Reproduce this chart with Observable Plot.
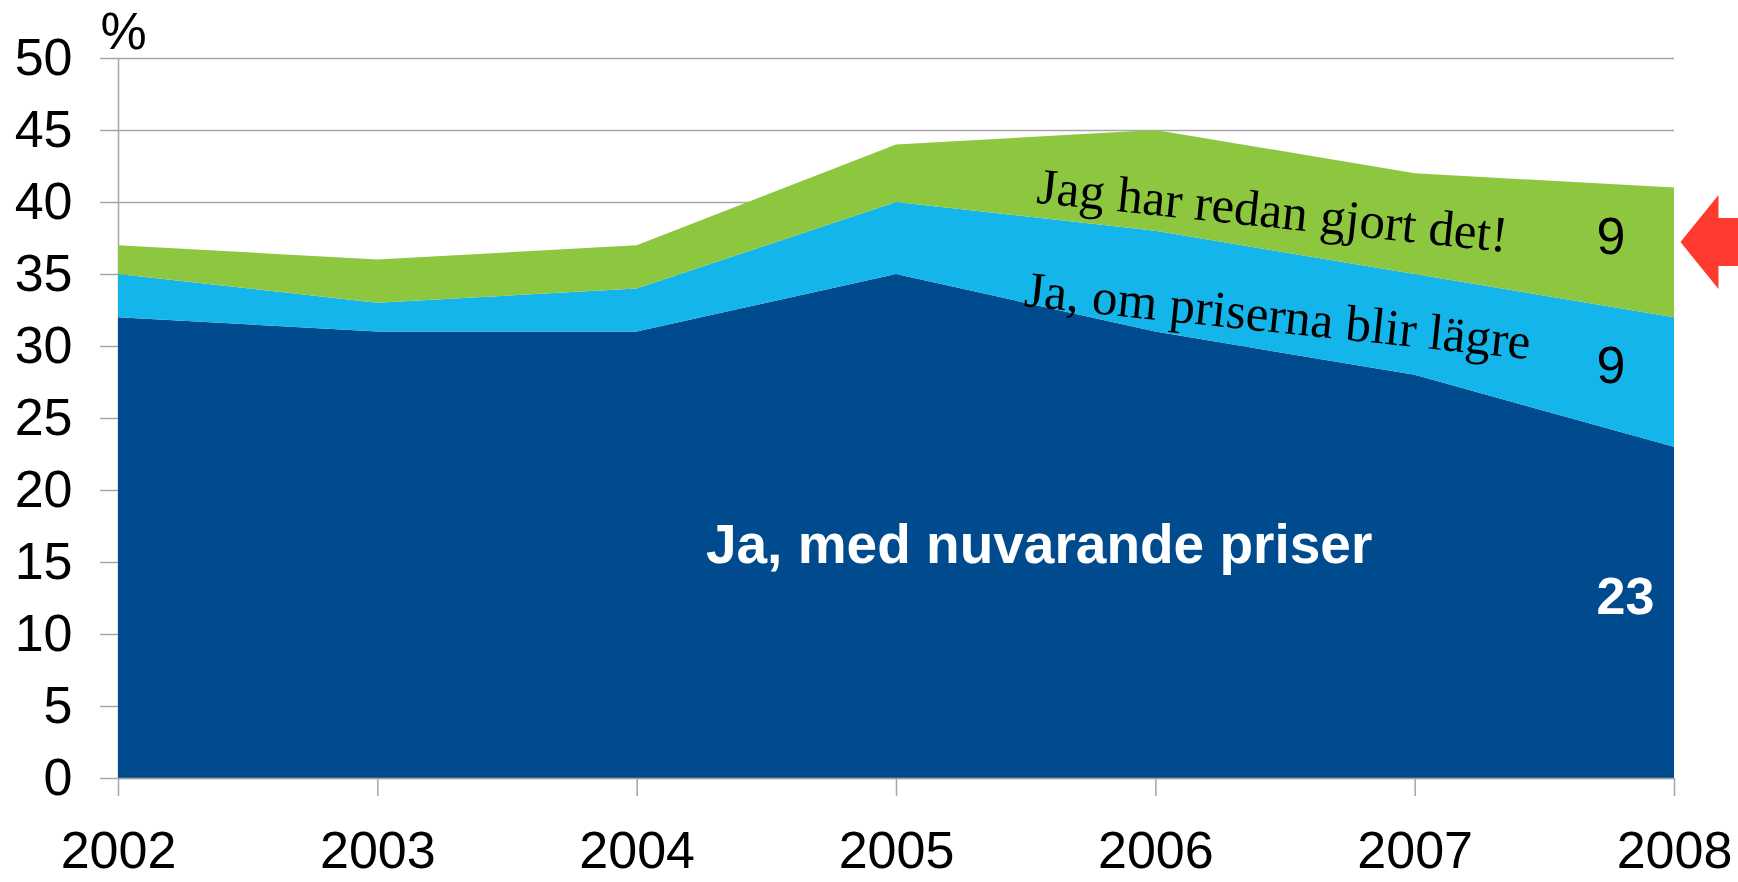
<!DOCTYPE html>
<html>
<head>
<meta charset="utf-8">
<script src="https://cdn.jsdelivr.net/npm/d3@7"></script>
<script src="https://cdn.jsdelivr.net/npm/@observablehq/plot@0.6"></script>
<style>
  html, body { margin: 0; padding: 0; background: #ffffff; }
  #chart { width: 1738px; height: 882px; overflow: hidden; }
</style>
</head>
<body>
<div id="chart"></div>
<script>
// ---- Data ----
const years = [2002, 2003, 2004, 2005, 2006, 2007, 2008];
const nuvarande = [32, 31, 31, 35, 31, 28, 23];   // Ja, med nuvarande priser
const lagre     = [3, 2, 3, 5, 7, 7, 9];          // Ja, om priserna blir lägre
const gjort     = [2, 3, 3, 4, 7, 7, 9];          // Jag har redan gjort det!
const seriesNames = ["Ja, med nuvarande priser", "Ja, om priserna blir lägre", "Jag har redan gjort det!"];
const seriesValues = [nuvarande, lagre, gjort];
const seriesColors = ["#004b8d", "#14b5ea", "#8dc63f"];
const yTicks = [0, 5, 10, 15, 20, 25, 30, 35, 40, 45, 50];
const yUnit = "%";

// band-label anchor positions (data coordinates)
const bandLabelX = [2005.55, 2006.47, 2006.45];
const bandLabelY = [16.2, 32.1, 39.4];
const arrowTarget = [{x: 2008, y: 37.25}];

// ---- Derived tables ----
const rows = [];
seriesNames.forEach((s, i) => years.forEach((yr, j) => rows.push({series: s, year: yr, value: seriesValues[i][j]})));

const last = years.length - 1;
let base = 0;
const endLabels = seriesNames.map((s, i) => {
  const v = seriesValues[i][last];
  const row = {series: s, year: years[last], value: v, mid: base + v / 2};
  base += v;
  return row;
});

const bandLabels = seriesNames.map((s, i) => ({text: s, x: bandLabelX[i], y: bandLabelY[i]}));

const gray = "#a6a6a6";
const sans = "'Liberation Sans', Arial, Helvetica, sans-serif";
const serif = "'Liberation Serif', 'Times New Roman', serif";

const arrowSymbol = {
  draw(context) {
    context.moveTo(0, 0);
    context.lineTo(38, -47);
    context.lineTo(38, -24);
    context.lineTo(70, -24);
    context.lineTo(70, 24);
    context.lineTo(38, 24);
    context.lineTo(38, 47);
    context.closePath();
  }
};

const chart = Plot.plot({
  width: 1738,
  height: 882,
  marginLeft: 118,
  marginRight: 64,
  marginTop: 58,
  marginBottom: 104,
  style: {fontFamily: sans, background: "#ffffff", overflow: "visible"},
  x: {type: "linear", domain: [2002, 2008]},
  y: {domain: [0, 50]},
  color: {domain: seriesNames, range: seriesColors},
  marks: [
    Plot.gridY(yTicks, {stroke: gray, strokeOpacity: 1, strokeWidth: 1.5}),
    Plot.ruleX([2002], {stroke: gray, strokeWidth: 1.5}),
    Plot.areaY(rows, {x: "year", y: "value", z: "series", fill: "series", order: seriesNames}),
    Plot.ruleY([0], {stroke: gray, strokeWidth: 1.5}),
    Plot.axisY(yTicks, {label: null, tickSize: 18, tickPadding: 28, fontSize: 52, stroke: gray, strokeWidth: 1.5, fill: "black"}),
    Plot.axisX(years, {label: null, tickSize: 18, tickPadding: 35, fontSize: 52, stroke: gray, strokeWidth: 1.5, fill: "black", tickFormat: d => String(d)}),
    Plot.text([yUnit], {frameAnchor: "top-left", dx: -18, dy: -26, textAnchor: "start", lineAnchor: "middle", fontSize: 52, fill: "black"}),
    // band labels
    Plot.text(bandLabels.slice(0, 1), {x: "x", y: "y", text: "text", fontSize: 55, fontWeight: "bold", fill: "white"}),
    Plot.text(bandLabels.slice(1), {x: "x", y: "y", text: "text", fontFamily: serif, fontSize: 51, fill: "black", rotate: 6}),
    // end values
    Plot.text(endLabels.slice(0, 1), {x: "year", y: "mid", text: d => String(d.value), dx: -78, dy: -16, textAnchor: "start", fontSize: 52, fill: "white", fontWeight: "bold"}),
    Plot.text(endLabels.slice(1), {x: "year", y: "mid", text: d => String(d.value), dx: -78, dy: -16, textAnchor: "start", fontSize: 52, fill: "black"}),
    // red arrow
    Plot.dot(arrowTarget, {x: "x", y: "y", dx: 6, r: 10, symbol: arrowSymbol, fill: "#ff3b2f", stroke: "none"})
  ]
});

document.getElementById("chart").appendChild(chart);
</script>
</body>
</html>
